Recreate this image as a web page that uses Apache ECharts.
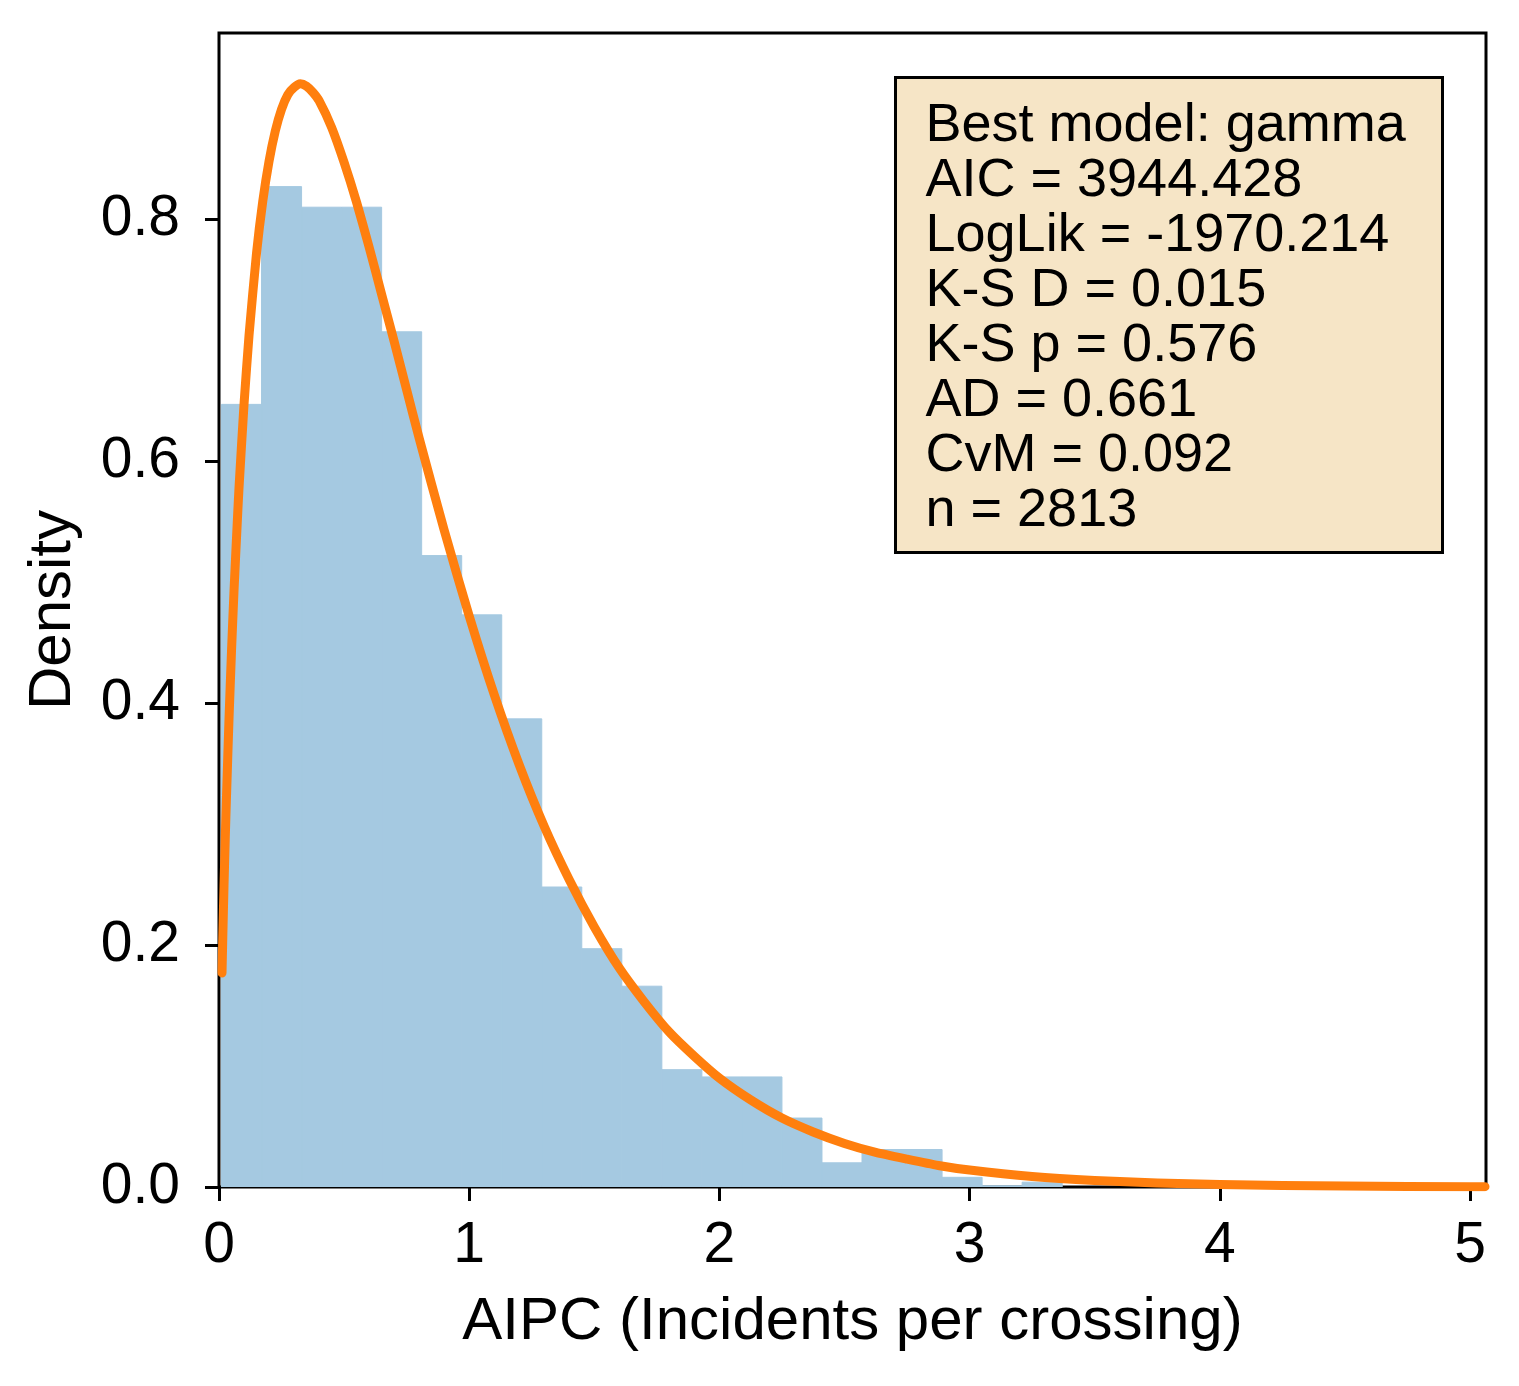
<!DOCTYPE html>
<html>
<head>
<meta charset="utf-8">
<title>AIPC density</title>
<script src="https://cdn.jsdelivr.net/npm/echarts@6/dist/echarts.min.js"></script>
<style>
	html, body { margin: 0; padding: 0; background: #fff; }
	#chart { width: 1519px; height: 1386px; }
</style>
</head>
<body>
<div id="chart"></div>
<script>
// histogram bins (left edge, right edge) and density heights
var binLeft = [0.01, 0.17, 0.33, 0.49, 0.65, 0.81, 0.97, 1.13, 1.29, 1.45, 1.61, 1.77, 1.93, 2.09, 2.25, 2.41, 2.57, 2.73, 2.89, 3.05, 3.21];
var binRight = [0.17, 0.33, 0.49, 0.65, 0.81, 0.97, 1.13, 1.29, 1.45, 1.61, 1.77, 1.93, 2.09, 2.25, 2.41, 2.57, 2.73, 2.89, 3.05, 3.21, 3.37];
var binDensity = [0.647, 0.827, 0.810, 0.810, 0.707, 0.522, 0.473, 0.387, 0.248, 0.197, 0.166, 0.097, 0.091, 0.091, 0.057, 0.020, 0.031, 0.031, 0.008, 0.001, 0.004];

// fitted curve
var curveX = [0.012, 0.015, 0.02, 0.025, 0.03, 0.04, 0.05, 0.06, 0.075, 0.08, 0.1, 0.12, 0.15, 0.175, 0.2, 0.225, 0.25, 0.275, 0.3, 0.325, 0.35, 0.375, 0.4, 0.45, 0.5, 0.55, 0.6, 0.65, 0.7, 0.75, 0.8, 0.9, 1.0, 1.1, 1.2, 1.3, 1.4, 1.5, 1.6, 1.7, 1.8, 1.9, 2.0, 2.125, 2.25, 2.375, 2.5, 2.625, 2.75, 2.875, 3.0, 3.25, 3.5, 3.75, 4.0, 4.25, 4.5, 5.0, 5.06];
var curveY = [0.177, 0.205, 0.249, 0.288, 0.323, 0.387, 0.443, 0.493, 0.558, 0.578, 0.647, 0.704, 0.772, 0.815, 0.848, 0.873, 0.891, 0.903, 0.909, 0.912, 0.910, 0.905, 0.898, 0.876, 0.847, 0.814, 0.777, 0.738, 0.699, 0.659, 0.619, 0.543, 0.472, 0.407, 0.349, 0.298, 0.254, 0.215, 0.181, 0.153, 0.128, 0.108, 0.090, 0.072, 0.057, 0.0455, 0.036, 0.0286, 0.023, 0.0178, 0.014, 0.0087, 0.0054, 0.0033, 0.0020, 0.0012, 0.0008, 0.0003, 0.0003];

var xTicks = [0, 1, 2, 3, 4, 5];
var yTicks = [0, 0.2, 0.4, 0.6, 0.8];

var statLines = [
	'Best model: gamma',
	'AIC = 3944.428',
	'LogLik = -1970.214',
	'K-S D = 0.015',
	'K-S p = 0.576',
	'AD = 0.661',
	'CvM = 0.092',
	'n = 2813'
];

var FONT = 'Liberation Sans, Arial, Helvetica, sans-serif';
var BAR_BLUE = '#a5c9e1';

var histChart = function () {
	var box = document.getElementById('chart');
	var bins = binLeft.map(function (l, i) {
		return [l, binRight[i], binDensity[i]];
	});
	var curve = curveX.map(function (x, i) {
		return [x, curveY[i]];
	});

	var option = {
		animation: false,
		backgroundColor: '#fff',
		textStyle: { fontFamily: FONT, color: '#000' },
		grid: {
			left: 219, right: 33, top: 33, bottom: 199,
			show: true,
			borderColor: '#000',
			borderWidth: 3,
			backgroundColor: 'transparent'
		},
		xAxis: {
			type: 'value',
			min: 0,
			max: 5.064,
			interval: 1,
			name: 'AIPC (Incidents per crossing)',
			nameLocation: 'middle',
			nameGap: 105,
			nameTextStyle: { fontSize: 60, color: '#000', fontFamily: FONT },
			axisLine: { show: false },
			splitLine: { show: false },
			axisTick: {
				show: true, inside: false, length: 14,
				customValues: xTicks,
				lineStyle: { color: '#000', width: 3 }
			},
			axisLabel: {
				fontSize: 57, color: '#000', margin: 31, fontFamily: FONT,
				customValues: xTicks,
				formatter: function (v) { return String(v); }
			}
		},
		yAxis: {
			type: 'value',
			min: 0,
			max: 0.954,
			interval: 0.2,
			name: 'Density',
			nameLocation: 'middle',
			nameRotate: 90,
			nameGap: 136,
			nameTextStyle: { fontSize: 60, color: '#000', fontFamily: FONT },
			axisLine: { show: false },
			splitLine: { show: false },
			axisTick: {
				show: true, inside: false, length: 14,
				customValues: yTicks,
				lineStyle: { color: '#000', width: 3 }
			},
			axisLabel: {
				fontSize: 57, color: '#000', margin: 39, fontFamily: FONT,
				customValues: yTicks,
				formatter: function (v) { return v.toFixed(1); }
			}
		},
		series: [
			{
				name: 'histogram',
				type: 'custom',
				clip: true,
				data: bins,
				encode: { x: [0, 1], y: 2 },
				renderItem: function (params, api) {
					var p0 = api.coord([api.value(0), api.value(2)]);
					var p1 = api.coord([api.value(1), 0]);
					return {
						type: 'rect',
						shape: { x: p0[0], y: p0[1], width: p1[0] - p0[0], height: p1[1] - p0[1] },
						style: { fill: BAR_BLUE, stroke: BAR_BLUE, lineWidth: 1 }
					};
				},
				z: 1
			},
			{
				name: 'gamma',
				type: 'line',
				data: curve,
				showSymbol: false,
				smooth: 0.2,
				lineStyle: { color: '#ff7f0e', width: 9, cap: 'round', join: 'round' },
				z: 3
			}
		],
		graphic: [
			{
				type: 'group',
				left: 894,
				top: 76,
				z: 10,
				children: [
					{
						type: 'rect',
						shape: { x: 0, y: 0, width: 547, height: 475 },
						style: { fill: '#f6e5c6', stroke: '#000', lineWidth: 3 }
					},
					{
						type: 'text',
						x: 30,
						y: 21,
						style: {
							text: statLines.join('\n'),
							fontSize: 54,
							lineHeight: 55,
							fontFamily: FONT,
							fill: '#000',
							verticalAlign: 'top',
							align: 'left'
						}
					}
				]
			}
		]
	};
	echarts.init(box).setOption(option);
};

histChart();
</script>
</body>
</html>
